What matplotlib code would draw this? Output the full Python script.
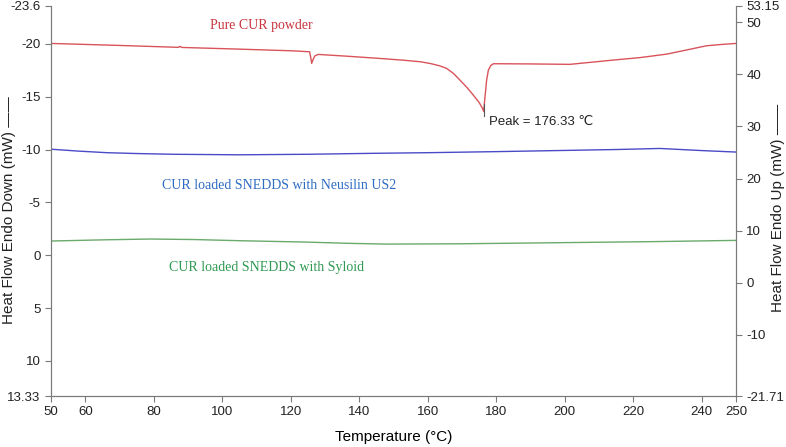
"""
DSC thermograms of pure CUR and CUR loaded SNEDDS.
"""
import numpy as np
import matplotlib.pyplot as plt

plt.rcParams['font.family'] = ['Liberation Sans', 'DejaVu Sans']

# Pure CUR powder (heat flow endo down, mW)
temp_cur = [50, 70, 87.2, 87.7, 88.2, 105, 120.5, 125.5, 125.9, 126.1, 126.5,
            127.0, 128.0, 136, 146, 153, 158, 161, 163.5, 165.5, 167.5, 169.4,
            171.5, 173.3, 175.0, 176.0, 176.33, 176.6, 177.2, 177.7, 178.4,
            179.2, 190, 201.5, 214, 222, 229.8, 236, 241.4, 246, 250]
hf_cur = [-20.04, -19.85, -19.67, -19.76, -19.66, -19.5, -19.34, -19.25,
          -18.6, -18.15, -18.5, -18.85, -19.0, -18.84, -18.62, -18.45, -18.3,
          -18.12, -17.92, -17.68, -17.2, -16.57, -15.85, -15.15, -14.45,
          -13.89, -13.6, -14.6, -16.6, -17.52, -17.95, -18.12, -18.1, -18.06,
          -18.46, -18.7, -19.03, -19.45, -19.82, -19.95, -20.04]

# CUR loaded SNEDDS with Neusilin US2
temp_neu = [50, 58, 66.3, 75, 85.6, 105, 125, 144, 160, 180, 197.6, 215,
            227.8, 240, 250]
hf_neu = [-10.03, -9.85, -9.7, -9.62, -9.55, -9.5, -9.55, -9.64, -9.7, -9.8,
          -9.9, -10.0, -10.1, -9.9, -9.76]

# CUR loaded SNEDDS with Syloid
temp_syl = [50, 65, 79, 92, 105, 124.5, 137, 148, 170, 197.6, 225, 250]
hf_syl = [-1.34, -1.45, -1.53, -1.48, -1.37, -1.24, -1.12, -1.05, -1.08,
          -1.18, -1.28, -1.4]

peak_temp = 176.33

left_ticks = [-23.6, -20, -15, -10, -5, 0, 5, 10, 13.33]
right_ticks = [-21.71, -10, 0, 10, 20, 30, 40, 50, 53.15]
x_ticks = [50, 60, 80, 100, 120, 140, 160, 180, 200, 220, 240, 250]

spine_col = '#7a7a7a'

fig = plt.figure(figsize=(7.86, 4.47), dpi=100)
ax = fig.add_axes([0.0649, 0.114, 0.8715, 0.873])

ax.plot(temp_cur, hf_cur, color='#d9535a', linewidth=1.0)
ax.plot(temp_neu, hf_neu, color='#4a4ac8', linewidth=1.0)
ax.plot(temp_syl, hf_syl, color='#6aaa6a', linewidth=1.0)
# peak marker
ax.plot([peak_temp, peak_temp], [-14.3, -13.2], color='#555555', linewidth=0.8)

ax.text(111.5, -21.77, 'Pure CUR powder', color='#c8353f', fontsize=10,
        family='Liberation Serif', ha='center', va='center')
ax.text(116.6, -6.64, 'CUR loaded SNEDDS with Neusilin US2', color='#2f6cc4',
        fontsize=10, family='Liberation Serif', ha='center', va='center')
ax.text(113, 1.2, 'CUR loaded SNEDDS with Syloid', color='#2f9a52',
        fontsize=10, family='Liberation Serif', ha='center', va='center')
ax.text(177.9, -12.6, 'Peak = %.2f ℃' % peak_temp, color='#222222',
        fontsize=9.5, ha='left', va='center')

ax.set_xlim(50, 250)
ax.set_ylim(13.33, -23.6)
ax.set_xticks(x_ticks)
ax.set_yticks(left_ticks)
ax.set_yticklabels([('%g' % t) for t in left_ticks])
ax.set_xlabel('Temperature (°C)', fontsize=11, labelpad=8)

ax2 = ax.twinx()
ax2.set_ylim(-21.71, 53.15)
ax2.set_yticks(right_ticks)
ax2.set_yticklabels([('%g' % t) for t in right_ticks])

for a in (ax, ax2):
    a.spines['top'].set_visible(False)
    for s in ('left', 'right', 'bottom'):
        a.spines[s].set_color(spine_col)
    a.tick_params(colors=spine_col, labelcolor='#222222', labelsize=9.5,
                  length=4, width=0.8)

fig.text(0.012, 0.53, 'Heat Flow Endo Down (mW) ——', rotation=90,
         ha='center', va='center', fontsize=11, color='#222222')
fig.text(0.99, 0.535, 'Heat Flow Endo Up (mW) ——', rotation=90,
         ha='center', va='center', fontsize=11, color='#222222')

fig.savefig('out.png', dpi=100)
